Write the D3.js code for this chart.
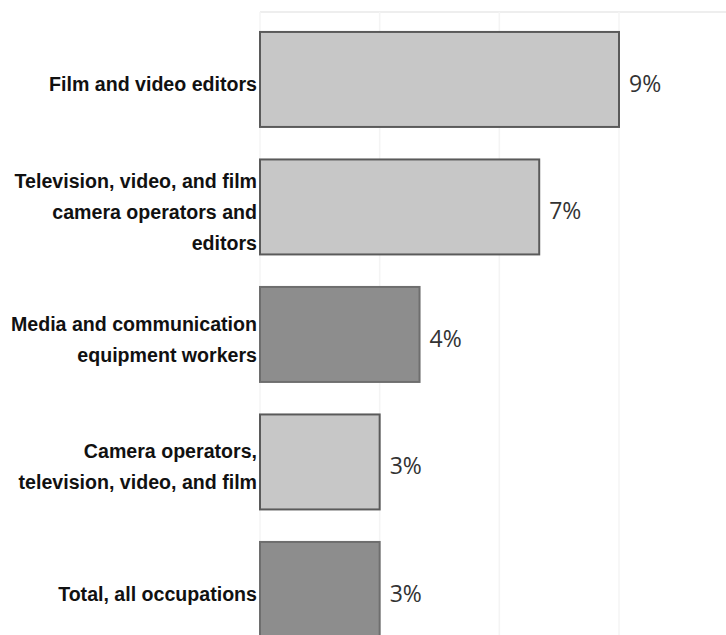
<!DOCTYPE html>
<html>
<head>
<meta charset="utf-8">
<script src="https://cdn.jsdelivr.net/npm/d3@7"></script>
<style>
  body { margin: 0; background: #fff; }
  svg { display: block; }
</style>
</head>
<body>
<div id="chart"></div>
<script>
// Occupations, top to bottom
var categories = [
  ['Film and video editors'],
  ['Television, video, and film', 'camera operators and', 'editors'],
  ['Media and communication', 'equipment workers'],
  ['Camera operators,', 'television, video, and film'],
  ['Total, all occupations']
];
var values = [9, 7, 4, 3, 3];
var shades = ['light', 'light', 'dark', 'light', 'dark'];
var gridTicks = [0, 3, 6, 9, 12];

var WIDTH = 726,
    HEIGHT = 635,
    AXIS_X = 260;

var COLORS = {
  LIGHT: '#c7c7c7',
  LIGHT_STROKE: '#5a5a5a',
  DARK: '#8d8d8d',
  DARK_STROKE: '#6e6e6e',
  GRID: '#f4f4f4',
  LABEL: '#111',
  VALUE: '#333'
};

var svg = d3.select('#chart')
  .append('svg')
  .attr('width', WIDTH)
  .attr('height', HEIGHT);

var x = d3.scaleLinear()
  .domain([0, 9])
  .range([AXIS_X, 619]);

var y = d3.scaleBand()
  .domain(d3.range(values.length))
  .range([15.7, 653.2])
  .paddingInner(0.255)
  .paddingOuter(0.1275);

// faint gridlines
svg.append('line')
  .attr('x1', AXIS_X).attr('x2', WIDTH)
  .attr('y1', 12).attr('y2', 12)
  .attr('stroke', '#e8e8e8')
  .attr('stroke-width', 1.5);

svg.selectAll('line.grid')
  .data(gridTicks)
  .enter().append('line')
  .attr('class', 'grid')
  .attr('x1', function(d) { return x(d); })
  .attr('x2', function(d) { return x(d); })
  .attr('y1', 12)
  .attr('y2', HEIGHT)
  .attr('stroke', COLORS.GRID)
  .attr('stroke-width', 1.5);

// bars
svg.selectAll('rect.bar')
  .data(values)
  .enter().append('rect')
  .attr('class', 'bar')
  .attr('x', x(0))
  .attr('y', function(d, i) { return y(i); })
  .attr('width', function(d) { return x(d) - x(0); })
  .attr('height', y.bandwidth())
  .attr('fill', function(d, i) { return shades[i] === 'dark' ? COLORS.DARK : COLORS.LIGHT; })
  .attr('stroke', function(d, i) { return shades[i] === 'dark' ? COLORS.DARK_STROKE : COLORS.LIGHT_STROKE; })
  .attr('stroke-width', 2);

// value labels
svg.selectAll('text.value')
  .data(values)
  .enter().append('text')
  .attr('class', 'value')
  .attr('x', function(d) { return x(d) + 10; })
  .attr('y', function(d, i) { return y(i) + y.bandwidth() / 2 + 4; })
  .attr('dy', '0.35em')
  .attr('font-family', 'Open Sans, sans-serif')
  .attr('font-size', '23px')
  .attr('fill', COLORS.VALUE)
  .text(function(d) { return d + '%'; });

// category labels
var LINE_H = 31;
svg.selectAll('text.cat')
  .data(categories)
  .enter().append('text')
  .attr('class', 'cat')
  .attr('text-anchor', 'end')
  .attr('font-family', '"Liberation Sans", Arial, sans-serif')
  .attr('font-weight', 'bold')
  .attr('font-size', '19.6px')
  .attr('fill', COLORS.LABEL)
  .each(function(lines, i) {
    var cy = y(i) + y.bandwidth() / 2 + 5;
    var top = cy - (lines.length - 1) * LINE_H / 2;
    d3.select(this).selectAll('tspan')
      .data(lines)
      .enter().append('tspan')
      .attr('x', AXIS_X - 3)
      .attr('y', function(d, j) { return top + j * LINE_H; })
      .attr('dy', '0.35em')
      .text(function(d) { return d; });
  });
</script>
</body>
</html>
